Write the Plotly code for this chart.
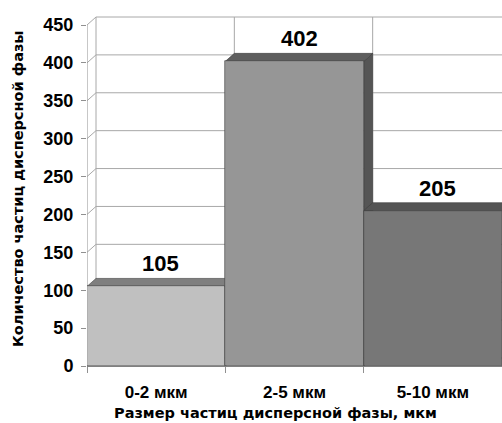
import plotly.graph_objects as go

# Particle counts per size range of the dispersed phase
categories = ["0-2 мкм", "2-5 мкм", "5-10 мкм"]
counts = [105, 402, 205]
y_ticks = [0, 50, 100, 150, 200, 250, 300, 350, 400, 450]

front_colors = ["#c0c0c0", "#969696", "#777777"]
top_colors = ["#7f7f7f", "#5e5e5e", "#545454"]
side_colors = ["#9a9a9a", "#555555", "#4a4a4a"]

W, H = 502, 423
M_L, M_R, M_T, M_B = 87, 0, 16, 57
plot_w = W - M_L - M_R
plot_h = H - M_T - M_B
px_per_unit = 341 / 450.0          # front-plane vertical scale
y_max = plot_h / px_per_unit
x_min, x_max = -0.5, len(categories) - 0.5
px_per_cat = plot_w / (x_max - x_min)

# 3D depth offset of the back wall (right and up)
DX = 9 / px_per_cat
DY = 8 / px_per_unit
top_val = y_ticks[-1]

grid = dict(color="#a8a8a8", width=1)
shapes = []
# back wall horizontal gridlines and left side wall diagonals
for v in y_ticks:
    shapes.append(dict(type="line", xref="x", yref="y", layer="below",
                       x0=x_min + DX, y0=v + DY, x1=x_max + 2 * DX, y1=v + DY, line=grid))
    shapes.append(dict(type="line", xref="x", yref="y", layer="below",
                       x0=x_min, y0=v, x1=x_min + DX, y1=v + DY, line=grid))
# back wall left edge and category boundaries
for b in [x_min + i for i in range(len(categories))]:
    shapes.append(dict(type="line", xref="x", yref="y", layer="below",
                       x0=b + DX, y0=DY, x1=b + DX, y1=top_val + DY, line=grid))
# front vertical axis line
shapes.append(dict(type="line", xref="x", yref="y", layer="below",
                   x0=x_min, y0=0, x1=x_min, y1=top_val, line=dict(color="#909090", width=1)))

# top and right faces of each bar
edge = dict(color="#3c3c3c", width=0.6)
for i, v in enumerate(counts):
    x0, x1 = i - 0.5, i + 0.5
    side = (f"M {x1},0 L {x1},{v} L {x1 + DX},{v + DY} L {x1 + DX},{DY} Z")
    top = (f"M {x0},{v} L {x0 + DX},{v + DY} L {x1 + DX},{v + DY} L {x1},{v} Z")
    shapes.append(dict(type="path", xref="x", yref="y", layer="below", path=side,
                       fillcolor=side_colors[i], line=edge))
    shapes.append(dict(type="path", xref="x", yref="y", layer="below", path=top,
                       fillcolor=top_colors[i], line=edge))

fig = go.Figure()
fig.add_trace(go.Bar(
    x=list(range(len(categories))), y=counts, width=1,
    marker=dict(color=front_colors, line=edge),
    hoverinfo="skip",
))

label_font = dict(family="Liberation Sans, Arial", size=22, color="#000000")
annotations = []
for i, v in enumerate(counts):
    annotations.append(dict(x=i + DX / 2, y=v + DY, xref="x", yref="y",
                            text=f"<b>{v}</b>", showarrow=False, yanchor="bottom",
                            yshift=0, font=label_font))

title_font = dict(family="DejaVu Sans", size=14.5, color="#000000")
annotations.append(dict(
    xref="paper", yref="paper", x=(18 - M_L) / plot_w, y=(H - M_B - 189) / plot_h,
    text="<b>Количество частиц дисперсной фазы</b>", textangle=-90,
    showarrow=False, xanchor="center", yanchor="middle", font=title_font))
annotations.append(dict(
    xref="paper", yref="paper", x=(275 - M_L) / plot_w, y=(H - M_B - 413) / plot_h,
    text="<b>Размер частиц дисперсной фазы, мкм</b>",
    showarrow=False, xanchor="center", yanchor="middle", font=title_font))

tick_font = dict(family="Liberation Sans, Arial", size=18, color="#000000")

fig.update_layout(
    width=W, height=H,
    margin=dict(l=M_L, r=M_R, t=M_T, b=M_B, pad=0),
    paper_bgcolor="#ffffff", plot_bgcolor="#ffffff",
    showlegend=False, bargap=0,
    shapes=shapes, annotations=annotations,
    xaxis=dict(range=[x_min, x_max], tickvals=list(range(len(categories))),
               ticktext=[f"<b>{c}</b>" for c in categories], ticks="",
               showgrid=False, zeroline=False,
               showline=True, linecolor="#808080", linewidth=1,
               tickfont=dict(tick_font, size=17), ticklabelstandoff=11,
               minor=dict(tickmode="linear", tick0=-0.5, dtick=1, ticks="outside",
                          ticklen=6, tickcolor="#909090", showgrid=False),
               fixedrange=True),
    yaxis=dict(range=[0, y_max], tickvals=y_ticks,
               ticktext=[f"<b>{t}</b>" for t in y_ticks],
               ticks="outside", ticklen=5,
               tickcolor="#909090", showgrid=False, zeroline=False, showline=False,
               tickfont=tick_font, ticklabelstandoff=4, fixedrange=True),
)

fig.write_html("out.html")
